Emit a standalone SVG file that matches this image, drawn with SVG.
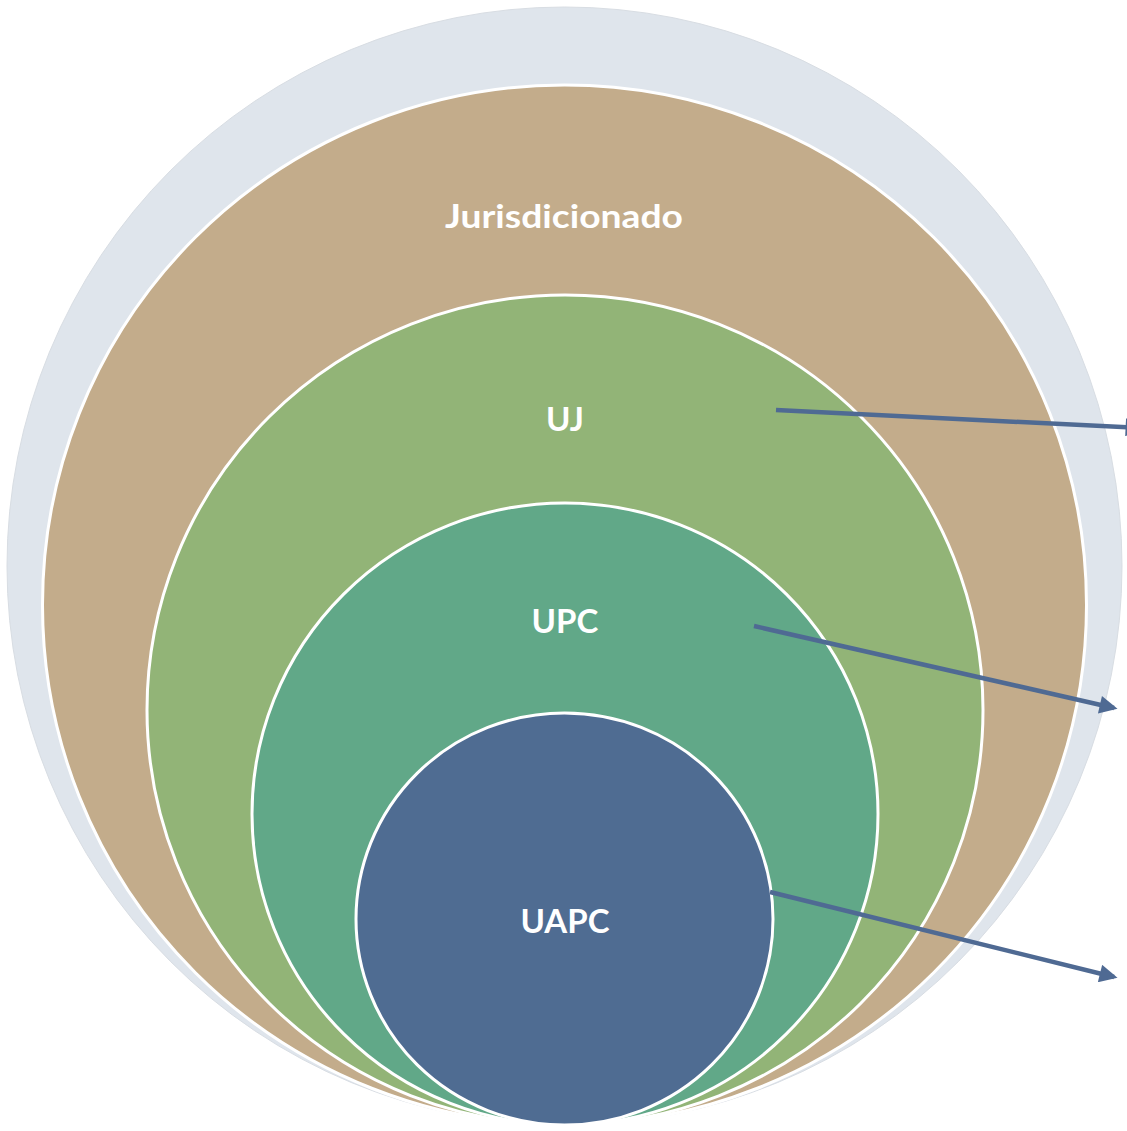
<svg xmlns="http://www.w3.org/2000/svg" width="1127" height="1131" viewBox="0 0 1127 1131">
<style>
.ring{stroke:#ffffff;stroke-width:3}
.lbl{font-family:Lato,"Open Sans","Liberation Sans",sans-serif;font-weight:bold;font-size:33px;fill:#ffffff;text-anchor:middle}
.arr{stroke:#4F6A93;stroke-width:4.5;fill:none;marker-end:url(#ah)}
</style>
<defs>
<marker id="ah" viewBox="0 0 10 10" refX="8" refY="5" markerWidth="4.6" markerHeight="4" orient="auto" markerUnits="strokeWidth">
<path d="M0,0 L10,5 L0,10 z" fill="#4F6A93"/>
</marker>
</defs>
<rect width="1127" height="1131" fill="#ffffff"/>
<g id="outer"><ellipse cx="564.5" cy="566" rx="557.5" ry="559" fill="#DFE5EC" stroke="#d8dde3" stroke-width="1"/></g>
<g id="jurisdicionado"><ellipse class="ring" cx="564.5" cy="605" rx="522" ry="520" fill="#C3AC8B"/><text class="lbl" x="564" y="228" textLength="238" lengthAdjust="spacingAndGlyphs">Jurisdicionado</text></g>
<g id="uj"><ellipse class="ring" cx="565" cy="710" rx="418" ry="415" fill="#92B477"/><text class="lbl" x="565" y="431">UJ</text></g>
<g id="upc"><ellipse class="ring" cx="565" cy="814" rx="313" ry="311" fill="#61A888"/><text class="lbl" x="565" y="633">UPC</text></g>
<g id="uapc"><ellipse class="ring" cx="564.5" cy="919" rx="208.5" ry="206" fill="#4F6C92"/><text class="lbl" x="565" y="933">UAPC</text></g>
<g id="connectors">
<line class="arr" x1="776" y1="410" x2="1140" y2="428"/>
<line class="arr" x1="754" y1="626" x2="1114" y2="708"/>
<line class="arr" x1="770" y1="892" x2="1114" y2="977"/>
</g>
</svg>
